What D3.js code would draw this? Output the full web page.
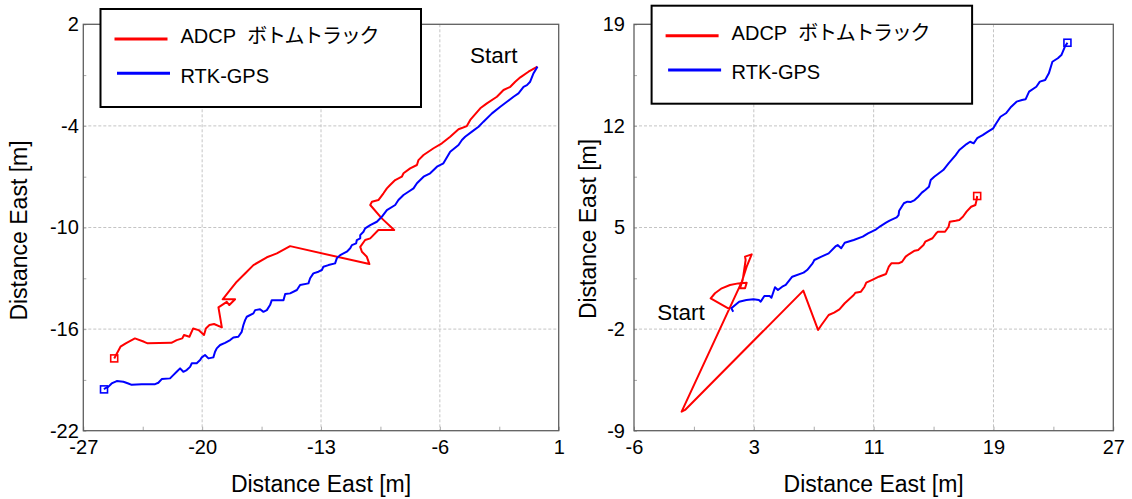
<!DOCTYPE html>
<html>
<head>
<meta charset="utf-8">
<script src="https://cdn.jsdelivr.net/npm/d3@7"></script>
<style>
  body { margin: 0; background: #fff; }
  svg { display: block; }
  text { font-family: "Liberation Sans", Arial, sans-serif; }
</style>
</head>
<body>
<script>
// ---------- DATA ----------
const seriesNames = ["ADCP  ボトムトラック", "RTK-GPS"];
const axisTitle = "Distance East [m]";
const startLabel = "Start";

// Left panel
const leftXTicks = [-27, -20, -13, -6, 1];
const leftXTickLabels = ["-27", "-20", "-13", "-6", "1"];
const leftYTicks = [2, -4, -10, -16, -22];
const leftYTickLabels = ["2", "-4", "-10", "-16", "-22"];

const leftAdcpX = [-0.25,-0.78,-1.26,-1.56,-1.85,-2.25,-2.64,-3.23,-3.62,-4.21,-4.41,-4.90,-5.39,-5.88,-6.37,-6.96,-7.26,-7.35,-7.75,-8.14,-8.24,-8.63,-8.93,-9.12,-9.32,-9.62,-10.00,-10.10,-9.42,-8.69,-9.62,-10.10,-10.40,-10.69,-10.59,-10.30,-10.15,-14.82,-15.60,-16.19,-16.98,-17.37,-17.96,-18.35,-18.79,-18.06,-18.40,-18.55,-19.04,-18.84,-19.30,-19.57,-19.78,-19.89,-20.21,-20.53,-20.75,-21.07,-21.17,-21.50,-21.81,-23.21,-23.42,-23.96,-24.50,-24.81,-25.07,-25.18];
const leftAdcpY = [-0.50,-0.80,-1.13,-1.39,-1.69,-1.88,-2.28,-2.67,-2.96,-3.65,-4.01,-4.20,-4.64,-5.03,-5.32,-5.72,-6.02,-6.31,-6.51,-6.80,-7.00,-7.20,-7.49,-7.69,-7.98,-8.38,-8.48,-8.67,-9.46,-10.15,-10.15,-10.64,-10.74,-11.14,-11.43,-11.73,-12.16,-11.10,-11.53,-11.76,-12.22,-12.61,-13.20,-13.69,-14.24,-14.24,-14.58,-14.39,-14.72,-15.90,-15.70,-15.76,-15.96,-16.35,-16.06,-15.96,-16.45,-16.35,-16.55,-16.65,-16.81,-16.84,-16.75,-16.55,-16.84,-17.04,-17.53,-17.73];

const leftGpsX = [-0.25,-0.48,-0.68,-0.87,-1.07,-1.37,-1.66,-2.05,-2.44,-2.93,-3.43,-3.72,-4.11,-4.51,-4.70,-4.90,-5.39,-5.79,-6.17,-6.57,-6.96,-7.35,-7.55,-7.85,-8.14,-8.44,-8.63,-9.12,-9.42,-9.71,-10.10,-10.40,-10.50,-10.69,-10.69,-10.89,-10.93,-11.18,-11.28,-11.48,-11.87,-12.07,-12.17,-12.56,-12.86,-12.95,-13.15,-13.45,-13.64,-13.74,-14.23,-14.42,-14.82,-15.11,-15.21,-15.90,-16.00,-16.19,-16.39,-16.59,-16.88,-16.98,-17.37,-17.47,-17.57,-17.67,-17.87,-18.16,-18.35,-18.65,-18.94,-19.14,-19.24,-19.34,-19.63,-19.83,-20.02,-20.12,-20.32,-20.61,-20.71,-20.91,-21.11,-21.30,-21.50,-21.70,-21.89,-22.38,-22.58,-22.77,-23.56,-24.15,-24.35,-24.64,-25.03,-25.33,-25.53,-25.72,-25.78];
const leftGpsY = [-0.50,-0.89,-1.39,-1.59,-1.69,-2.08,-2.28,-2.57,-2.87,-3.26,-3.75,-4.05,-4.34,-4.64,-4.83,-5.13,-5.53,-6.21,-6.41,-6.80,-7.00,-7.39,-7.69,-7.89,-8.08,-8.38,-8.67,-8.97,-9.37,-9.66,-9.86,-10.05,-10.25,-10.45,-10.64,-10.74,-10.94,-11.04,-11.23,-11.43,-11.63,-11.82,-12.12,-12.22,-12.32,-12.51,-12.61,-12.71,-13.00,-13.30,-13.40,-13.69,-13.89,-13.93,-14.29,-14.29,-14.58,-14.88,-14.98,-14.83,-14.88,-15.07,-15.27,-15.47,-15.76,-16.16,-16.45,-16.49,-16.65,-16.81,-16.94,-17.14,-17.34,-17.67,-17.73,-17.53,-17.67,-17.83,-18.02,-18.02,-18.23,-18.42,-18.52,-18.32,-18.52,-18.72,-18.91,-18.95,-19.17,-19.25,-19.25,-19.29,-19.21,-19.11,-19.07,-19.21,-19.41,-19.50,-19.56];

// Right panel (axis runs -5.5..27, labels shown rounded)
const rightXTicks = [-5.5, 2.625, 10.75, 18.875, 27];
const rightXTickLabels = ["-6", "3", "11", "19", "27"];
const rightYTicks = [19, 12, 5, -2, -9];
const rightYTickLabels = ["19", "12", "5", "-2", "-9"];

const rightAdcpX = [1.01,-0.30,-0.01,0.45,1.01,1.57,2.14,2.03,1.69,1.87,2.07,2.03,2.48,2.14,1.80,-2.27,-2.04,5.98,6.98,7.21,7.70,8.07,8.43,8.79,9.40,9.52,9.89,10.13,10.25,10.73,11.10,11.59,11.78,11.95,12.44,12.68,12.92,13.16,13.53,13.77,14.13,14.25,14.74,14.99,15.11,15.59,15.83,15.91,16.31,16.56,16.80,17.05,17.36,17.65,17.73,17.77];
const rightAdcpY = [-0.64,0.12,0.47,0.81,1.04,1.15,1.20,0.81,0.81,1.38,2.76,2.99,3.15,2.30,1.24,-7.69,-7.57,0.65,-2.06,-1.72,-1.03,-0.87,-0.64,-0.22,0.35,0.51,0.58,0.92,1.20,1.43,1.61,1.80,2.30,2.53,2.53,2.64,2.99,3.17,3.40,3.45,3.79,4.02,4.26,4.60,4.71,4.71,5.05,5.40,5.47,5.52,5.74,6.09,6.43,6.55,6.89,7.17];

const rightGpsX = [1.23,1.10,1.63,2.12,2.60,2.97,3.09,3.34,3.70,3.82,4.06,4.26,4.55,4.79,5.23,6.00,6.24,6.61,6.73,7.21,7.70,8.19,8.31,8.55,8.79,9.40,10.01,10.37,10.86,11.22,11.59,11.83,12.31,12.44,12.48,12.80,13.04,13.28,13.53,13.77,14.02,14.25,14.50,14.62,14.86,15.47,15.83,16.31,16.56,17.05,17.29,17.53,17.77,18.14,18.50,18.86,18.99,19.35,19.72,20.08,20.44,20.81,21.05,21.29,21.78,22.02,22.38,22.63,22.87,23.24,23.48,23.72,23.89];
const rightGpsY = [-0.80,-0.57,-0.11,0.00,0.05,0.00,-0.11,0.28,0.28,0.16,0.88,0.69,0.92,1.04,1.61,1.89,2.07,2.53,2.76,2.99,3.22,3.72,3.79,3.57,3.95,4.14,4.37,4.60,4.83,5.10,5.33,5.47,5.70,5.86,6.16,6.67,6.78,6.76,6.89,7.12,7.40,7.58,7.81,8.27,8.50,8.96,9.42,9.99,10.34,10.75,10.91,10.80,11.15,11.37,11.60,11.83,12.06,12.63,12.87,13.32,13.67,13.78,13.83,14.36,14.70,15.05,15.16,15.62,16.42,16.66,16.88,17.46,17.73];

// ---------- STYLE / LAYOUT ----------
const COLORS = ["#ff0000", "#0000ff"];
const W = 1132, H = 499;

const panels = [
  {
    xTicks: leftXTicks, xLabels: leftXTickLabels, yTicks: leftYTicks, yLabels: leftYTickLabels,
    xRange: [83.3, 558.7], yRange: [430.7, 24.3],
    series: [[leftAdcpX, leftAdcpY], [leftGpsX, leftGpsY]],
    legend: { x: 100.5, y: 9 }, start: { x: 470, y: 62.7 },
    yLabelPad: 4.5, yTitleX: 26.5, yTitleY: 230.5
  },
  {
    xTicks: rightXTicks, xLabels: rightXTickLabels, yTicks: rightYTicks, yLabels: rightYTickLabels,
    xRange: [634, 1113.3], yRange: [430.7, 24.3],
    series: [[rightAdcpX, rightAdcpY], [rightGpsX, rightGpsY]],
    legend: { x: 651.6, y: 5.7 }, start: { x: 657.3, y: 320 },
    yLabelPad: 9, yTitleX: 596, yTitleY: 229
  }
];

const svg = d3.select("body").append("svg").attr("width", W).attr("height", H);

panels.forEach(p => {
  const x = d3.scaleLinear().domain([p.xTicks[0], p.xTicks[p.xTicks.length - 1]]).range(p.xRange);
  const y = d3.scaleLinear().domain([p.yTicks[p.yTicks.length - 1], p.yTicks[0]]).range(p.yRange);
  const g = svg.append("g");
  const [x0, x1] = p.xRange, [yb, yt] = p.yRange;

  // grid
  g.append("g").selectAll("line").data(p.xTicks.slice(1, -1)).join("line")
    .attr("x1", d => x(d)).attr("x2", d => x(d)).attr("y1", yt).attr("y2", yb)
    .attr("stroke", "#c4c4c4").attr("stroke-width", 1).attr("stroke-dasharray", "3,2");
  g.append("g").selectAll("line").data(p.yTicks.slice(1, -1)).join("line")
    .attr("x1", x0).attr("x2", x1).attr("y1", d => y(d)).attr("y2", d => y(d))
    .attr("stroke", "#c4c4c4").attr("stroke-width", 1).attr("stroke-dasharray", "3,2");

  // axes
  const xAxis = d3.axisBottom(x).tickValues(p.xTicks).tickFormat((d, i) => p.xLabels[i]).tickSize(-4).tickPadding(9);
  const yAxis = d3.axisLeft(y).tickValues(p.yTicks).tickFormat((d, i) => p.yLabels[i]).tickSize(-3).tickPadding(p.yLabelPad);
  const xMinor = d3.pairs(p.xTicks).map(([a, b]) => (a + b) / 2);
  const yMinor = d3.pairs(p.yTicks).map(([a, b]) => (a + b) / 2);

  const styleAxis = sel => {
    sel.select(".domain").remove();
    sel.selectAll("line").attr("stroke", "#aaaaaa");
    sel.selectAll("text").attr("font-size", 20).attr("fill", "#000")
      .attr("font-family", "'Liberation Sans', Arial, sans-serif");
  };
  g.append("g").attr("transform", `translate(0,${yb})`).call(xAxis).call(styleAxis);
  g.append("g").attr("transform", `translate(${x0},0)`).call(yAxis).call(styleAxis);
  g.append("g").attr("transform", `translate(0,${yb})`)
    .call(d3.axisBottom(x).tickValues(xMinor).tickFormat("").tickSize(-4)).call(styleAxis);
  g.append("g").attr("transform", `translate(${x0},0)`)
    .call(d3.axisLeft(y).tickValues(yMinor).tickFormat("").tickSize(-3)).call(styleAxis);

  // frame
  g.append("rect").attr("x", x0).attr("y", yt).attr("width", x1 - x0).attr("height", yb - yt)
    .attr("fill", "none").attr("stroke", "#5f5f5f").attr("stroke-width", 1.3);

  // series
  const line = d3.line().x(d => x(d[0])).y(d => y(d[1]));
  p.series.forEach((s, i) => {
    const pts = d3.zip(s[0], s[1]);
    g.append("path").datum(pts).attr("d", line)
      .attr("fill", "none").attr("stroke", COLORS[i]).attr("stroke-width", 2)
      .attr("stroke-linejoin", "round");
    const last = pts[pts.length - 1];
    g.append("rect").attr("x", x(last[0]) - 3.5).attr("y", y(last[1]) - 3.5)
      .attr("width", 7).attr("height", 7).attr("fill", "none")
      .attr("stroke", COLORS[i]).attr("stroke-width", 1.6);
  });

  // Start label
  g.append("text").attr("x", p.start.x).attr("y", p.start.y)
    .attr("font-size", 22.5).attr("fill", "#000").text(startLabel);

  // legend
  const L = g.append("g").attr("transform", `translate(${p.legend.x},${p.legend.y})`);
  L.append("rect").attr("width", 320.5).attr("height", 98)
    .attr("fill", "#fff").attr("stroke", "#000").attr("stroke-width", 2);
  const rows = [{ ly: 30, ty: 34.3, lx0: 14, lx1: 67 }, { ly: 64.3, ty: 73.5, lx0: 16.5, lx1: 69.5 }];
  seriesNames.forEach((name, i) => {
    const r = rows[i];
    L.append("line").attr("x1", r.lx0).attr("x2", r.lx1).attr("y1", r.ly).attr("y2", r.ly)
      .attr("stroke", COLORS[i]).attr("stroke-width", 3);
    const parts = name.split("  ");
    const t = L.append("text").attr("x", 80).attr("y", r.ty).attr("font-size", 20).attr("fill", "#000");
    t.append("tspan").text(parts[0]);
    if (parts.length > 1) {
      t.append("tspan").attr("x", 146.7)
        .attr("font-family", "'Noto Sans CJK JP', sans-serif")
        .attr("letter-spacing", "-1.3px").text(parts[1]);
    }
  });

  // axis titles
  g.append("text").attr("x", (x0 + x1) / 2).attr("y", 491.5).attr("text-anchor", "middle")
    .attr("font-size", 23).attr("fill", "#000").text(axisTitle);
  g.append("text").attr("transform", `translate(${p.yTitleX},${p.yTitleY}) rotate(-90)`)
    .attr("text-anchor", "middle").attr("font-size", 23).attr("fill", "#000").text(axisTitle);
});
</script>
</body>
</html>
